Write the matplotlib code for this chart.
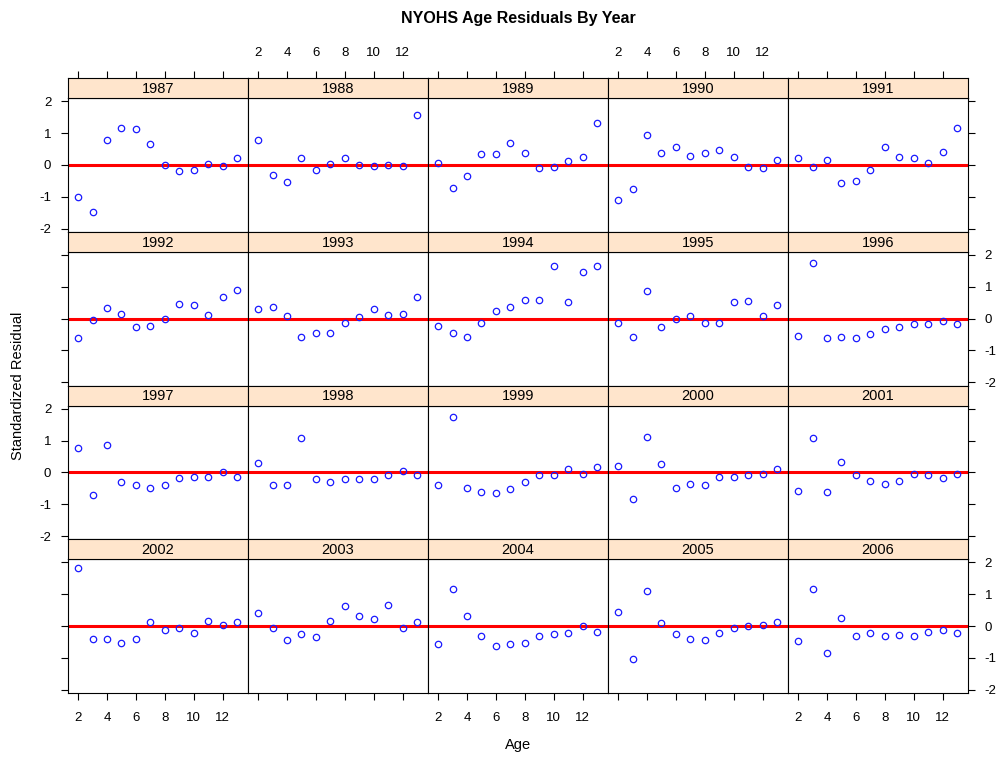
import numpy as np
import matplotlib.pyplot as plt

plt.rcParams['font.family'] = ['Liberation Sans', 'DejaVu Sans']
plt.rcParams['axes.unicode_minus'] = False

# ages on the x axis, one residual per age for each year
ages = np.arange(2, 14)
years = list(range(1987, 2007))

r1987 = [-1.00, -1.49, 0.78, 1.17, 1.13, 0.64, 0.00, -0.19, -0.15, 0.04, -0.05, 0.22]
r1988 = [0.78, -0.31, -0.54, 0.22, -0.15, 0.04, 0.22, 0.00, -0.05, 0.00, -0.05, 1.56]
r1989 = [0.07, -0.72, -0.36, 0.33, 0.33, 0.68, 0.37, -0.10, -0.06, 0.11, 0.25, 1.30]
r1990 = [-1.11, -0.76, 0.94, 0.37, 0.55, 0.29, 0.37, 0.47, 0.25, -0.06, -0.10, 0.15]
r1991 = [0.21, -0.06, 0.15, -0.58, -0.50, -0.15, 0.55, 0.25, 0.21, 0.07, 0.41, 1.17]
r1992 = [-0.62, -0.05, 0.34, 0.16, -0.27, -0.23, 0.00, 0.47, 0.43, 0.12, 0.69, 0.91]
r1993 = [0.30, 0.38, 0.08, -0.57, -0.44, -0.44, -0.13, 0.04, 0.30, 0.12, 0.16, 0.69]
r1994 = [-0.24, -0.45, -0.57, -0.14, 0.25, 0.37, 0.60, 0.60, 1.65, 0.52, 1.47, 1.65]
r1995 = [-0.14, -0.57, 0.87, -0.27, 0.00, 0.08, -0.14, -0.14, 0.52, 0.56, 0.08, 0.43]
r1996 = [-0.53, 1.74, -0.61, -0.57, -0.61, -0.47, -0.34, -0.26, -0.18, -0.18, -0.09, -0.18]
r1997 = [0.77, -0.70, 0.86, -0.31, -0.39, -0.48, -0.39, -0.18, -0.14, -0.14, 0.00, -0.14]
r1998 = [0.30, -0.39, -0.39, 1.08, -0.22, -0.31, -0.22, -0.22, -0.22, -0.09, 0.04, -0.09]
r1999 = [-0.40, 1.74, -0.49, -0.61, -0.66, -0.53, -0.31, -0.09, -0.09, 0.12, -0.05, 0.17]
r2000 = [0.20, -0.83, 1.12, 0.26, -0.48, -0.35, -0.39, -0.14, -0.14, -0.09, -0.05, 0.12]
r2001 = [-0.57, 1.08, -0.61, 0.34, -0.09, -0.27, -0.35, -0.27, -0.05, -0.09, -0.18, -0.05]
r2002 = [1.83, -0.40, -0.40, -0.52, -0.40, 0.12, -0.13, -0.05, -0.22, 0.17, 0.05, 0.12]
r2003 = [0.40, -0.05, -0.44, -0.26, -0.34, 0.17, 0.62, 0.31, 0.22, 0.66, -0.05, 0.12]
r2004 = [-0.57, 1.17, 0.31, -0.30, -0.61, -0.57, -0.52, -0.30, -0.26, -0.22, 0.00, -0.18]
r2005 = [0.44, -1.04, 1.09, 0.09, -0.26, -0.39, -0.44, -0.22, -0.05, 0.00, 0.05, 0.13]
r2006 = [-0.48, 1.17, -0.83, 0.27, -0.31, -0.22, -0.31, -0.27, -0.31, -0.18, -0.13, -0.22]

residuals = [r1987, r1988, r1989, r1990, r1991, r1992, r1993, r1994, r1995, r1996,
             r1997, r1998, r1999, r2000, r2001, r2002, r2003, r2004, r2005, r2006]

W, H = 997, 758
fig = plt.figure(figsize=(W / 100, H / 100), dpi=100, facecolor='white')

# panel geometry in pixels
left, top = 68, 78
pw = 180
rh = 153.75
sh = 20

nrow, ncol = 4, 5
xticks = [2, 4, 6, 8, 10, 12]
yticks = [-2, -1, 0, 1, 2]

for i, (yr, res) in enumerate(zip(years, residuals)):
    r, c = divmod(i, ncol)
    x0 = left + c * pw
    st = top + r * rh
    pb = st + rh
    ax = fig.add_axes([x0 / W, 1 - pb / H, pw / W, (rh - sh) / H])
    sax = fig.add_axes([x0 / W, 1 - (st + sh) / H, pw / W, sh / H], sharex=ax)

    ax.axhline(0, color='red', lw=2.2, zorder=1)
    ax.plot(ages, res, 'o', mfc='none', mec='#1a1aff', ms=4.6, mew=0.9, zorder=2)
    ax.set_xlim(1.3, 13.75)
    ax.set_ylim(-2.1, 2.1)
    ax.set_xticks(xticks)
    ax.set_yticks(yticks)
    ax.tick_params(direction='out', length=5, width=0.8, labelsize=9.5, pad=3,
                   top=False,
                   bottom=(r == nrow - 1), labelbottom=(r == nrow - 1 and c % 2 == 0),
                   left=(c == 0), labelleft=(c == 0 and r % 2 == 0),
                   right=(c == ncol - 1), labelright=(c == ncol - 1 and r % 2 == 1))
    if r == nrow - 1:
        ax.tick_params(axis='x', pad=9)
    if c == ncol - 1:
        ax.tick_params(axis='y', pad=7)
    if c == 0:
        ax.tick_params(axis='y', pad=7)
    for s in ax.spines.values():
        s.set_linewidth(0.8)

    sax.set_facecolor('#ffe5cc')
    sax.set_yticks([])
    sax.tick_params(axis='x', direction='out', length=5, width=0.8, labelsize=9.5,
                    bottom=False, labelbottom=False,
                    top=(r == 0), labeltop=(r == 0 and c % 2 == 1), pad=9)
    for s in sax.spines.values():
        s.set_linewidth(0.8)
    sax.text(0.5, 0.45, str(yr), transform=sax.transAxes, ha='center', va='center',
             fontsize=10.5)

fig.text(518 / W, 1 - 18 / H, 'NYOHS Age Residuals By Year', ha='center', va='center',
         fontsize=11.5, fontweight='bold')
fig.text(18 / W, 1 - 386 / H, 'Standardized Residual', rotation=90, ha='center',
         va='center', fontsize=10.5)
fig.text(518 / W, 1 - 745 / H, 'Age', ha='center', va='center', fontsize=10.5)

fig.savefig('out.png', dpi=100)
